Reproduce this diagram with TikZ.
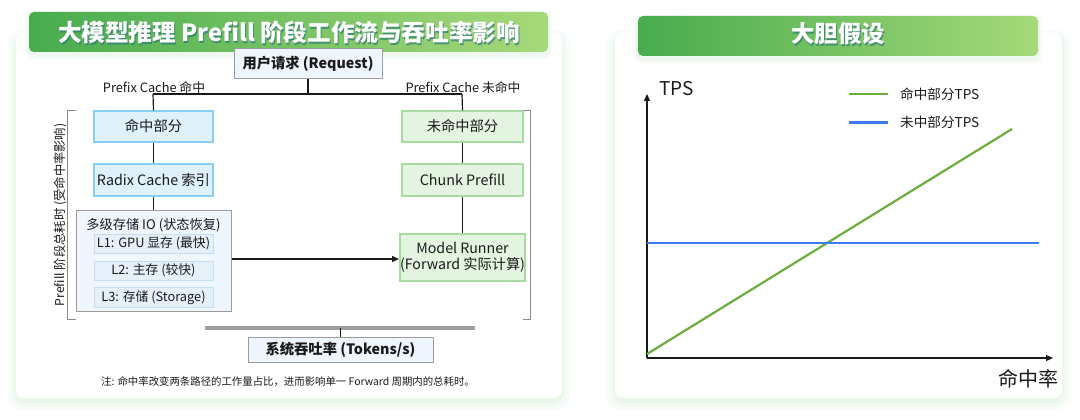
\documentclass[tikz,border=0pt]{standalone}
\usepackage{fontspec}
\setmainfont{Noto Sans CJK SC}
\usetikzlibrary{arrows.meta}
\definecolor{bannerL}{HTML}{48AC4E}
\definecolor{bannerR}{HTML}{A6D979}
\definecolor{titleshadow}{HTML}{2B7A74}
\definecolor{shadowgreen}{HTML}{8FCF8A}
\definecolor{hitfill}{HTML}{DFF1FB}
\definecolor{hitdraw}{HTML}{86D0F2}
\definecolor{missfill}{HTML}{E3F4E1}
\definecolor{missdraw}{HTML}{A6DBA2}
\definecolor{reqfill}{HTML}{EEF5FD}
\definecolor{boxgray}{HTML}{9C9C9C}
\definecolor{contfill}{HTML}{EFF6FD}
\definecolor{lfill}{HTML}{E6F0FA}
\definecolor{ldraw}{HTML}{C4DFF3}
\definecolor{bargray}{HTML}{9E9E9E}
\definecolor{bracketgray}{HTML}{8A8A8A}
\definecolor{linegreen}{HTML}{6AAE3E}
\definecolor{lineblue}{HTML}{3D7BF0}
\definecolor{txt}{HTML}{1A1A1A}
\tikzset{
  card/.style={fill=white, rounded corners=8pt},
  banner/.style={left color=bannerL, right color=bannerR, rounded corners=5pt},
  hitbox/.style={draw=hitdraw, fill=hitfill, line width=1.2pt, minimum width=119pt, inner sep=0pt, font=\fontsize{14.3}{16}\selectfont, text=txt},
  missbox/.style={draw=missdraw, fill=missfill, line width=1.2pt, minimum width=121pt, inner sep=0pt, font=\fontsize{14.3}{16}\selectfont, text=txt},
  lbox/.style={draw=ldraw, fill=lfill, line width=0.8pt, minimum width=119pt, inner sep=0pt, font=\fontsize{12.8}{14}\selectfont, text=txt},
  graybox/.style={draw=boxgray, fill=reqfill, line width=1pt, inner sep=0pt, font=\bfseries\fontsize{14.3}{16}\selectfont, text=txt},
  conn/.style={draw=txt, line width=1.2pt},
  bracket/.style={draw=bracketgray, line width=1pt},
  lbl/.style={font=\fontsize{12.8}{14}\selectfont, text=txt, inner sep=0pt},
}
\begin{document}
\begin{tikzpicture}[x=1pt,y=-1pt]
\useasboundingbox (0,0) rectangle (1080,420);
% card shadows
\foreach \i/\o in {8/0.05,5/0.06,2/0.07}{
  \fill[shadowgreen, opacity=\o, rounded corners=12pt] (16-\i,33-\i+5) rectangle (562+\i,398+\i+4);
  \fill[shadowgreen, opacity=\o, rounded corners=12pt] (615-\i,33-\i+5) rectangle (1062+\i,398+\i+4);
}
\fill[card] (16,33) rectangle (562,398);
\fill[card] (615,33) rectangle (1062,398);
% banners
\foreach \i/\o in {4/0.06,2/0.08}{
  \fill[shadowgreen, opacity=\o, rounded corners=7pt] (29-\i,12-\i+3) rectangle (548+\i,52+\i+3);
  \fill[shadowgreen, opacity=\o, rounded corners=7pt] (638-\i,16-\i+3) rectangle (1038+\i,56+\i+3);
}
\shade[banner] (29,12) rectangle (548,52);
\shade[banner] (638,16) rectangle (1038,56);
\node[text=titleshadow, opacity=0.7, font=\bfseries\fontsize{23.6}{27}\selectfont] at (290,34.5) {大模型推理 Prefill 阶段工作流与吞吐率影响};
\node[text=white, font=\bfseries\fontsize{23.6}{27}\selectfont] (title1) at (289,32.5) {大模型推理 Prefill 阶段工作流与吞吐率影响};
\node[text=titleshadow, opacity=0.7, font=\bfseries\fontsize{23.4}{27}\selectfont] at (839,36) {大胆假设};
\node[text=white, font=\bfseries\fontsize{23.4}{27}\selectfont] (title2) at (838,34) {大胆假设};

% ===== left diagram =====
\node[graybox, minimum width=148pt, minimum height=30pt] (req) at (308,64) {用户请求 (Request)};
\coordinate (split) at (308,94);
\coordinate (hl) at (153,94);
\coordinate (hright) at (462,94);
\node[lbl] (lhit) at (154,87.5) {Prefix Cache 命中};
\node[lbl] (lmiss) at (463,87.5) {Prefix Cache 未命中};

\node[hitbox, minimum height=31pt] (hit) at (153.5,126.5) {命中部分};
\node[hitbox, minimum height=32pt] (radix) at (153.5,180) {Radix Cache 索引};
\node[draw=boxgray, fill=contfill, line width=1pt, minimum width=155pt, minimum height=101pt, inner sep=0pt] (cont) at (153.5,260.5) {};
\node[font=\fontsize{13.2}{15}\selectfont, text=txt, inner sep=0pt] (conttitle) at (153.5,225.5) {多级存储 IO (状态恢复)};
\node[lbox, minimum height=19pt] (l1) at (153.5,243.5) {L1: GPU 显存 (最快)};
\node[lbox, minimum height=19pt] (l2) at (153.5,270.5) {L2: 主存 (较快)};
\node[lbox, minimum height=20pt] (l3) at (153.5,297.5) {L3: 存储 (Storage)};

\node[missbox, minimum height=31pt] (miss) at (462.5,126.5) {未命中部分};
\node[missbox, minimum height=32pt] (chunk) at (462.5,180) {Chunk Prefill};
\node[missbox, line width=2pt, minimum height=47pt, align=center, font=\fontsize{14.2}{16}\selectfont] (runner) at (462.5,257) {Model Runner\\(Forward 实际计算)};

\draw[conn] (req.south) -- (split);
\draw[conn] (hl) -- (hright);
\draw[conn] (hl) -- (hit.north);
\draw[conn] (hright) -- (miss.north);
\draw[conn] (hit) -- (radix);
\draw[conn] (radix) -- (cont.north);
\draw[conn] (miss) -- (chunk);
\draw[conn] (chunk) -- (runner);
\draw[conn, -{Triangle[length=7pt,width=6pt]}] (cont.east |- 0,259) -- (runner.west |- 0,259);

% brackets
\draw[bracket] (76,111) -- (67,111) -- (67,319) -- (76,319);
\draw[bracket] (523,111) -- (530,111) -- (530,319) -- (523,319);
\node[lbl, rotate=90, font=\fontsize{12.3}{14}\selectfont] (blabel) at (60,215) {Prefill 阶段总耗时 (受命中率影响)};

% throughput
\coordinate (barL) at (205,328);
\coordinate (barR) at (475,328);
\draw[draw=bargray, line width=4pt] (barL) -- (barR);
\node[graybox, minimum width=185pt, minimum height=25pt] (tput) at (340.5,349.5) {系统吞吐率 (Tokens/s)};
\draw[draw=txt, line width=1pt] (340.5,328) -- (tput.north);
\node[font=\fontsize{10.4}{12}\selectfont, text=txt, inner sep=0pt] (note) at (288,382) {注: 命中率改变两条路径的工作量占比，进而影响单一 Forward 周期内的总耗时。};

% ===== right chart =====
\coordinate (origin) at (647,358);
\coordinate (ytip) at (647,94);
\coordinate (xtip) at (1053,358);
\draw[line width=1.2pt, txt, -{Triangle[length=7pt,width=6pt]}] (origin) -- (ytip);
\draw[line width=1.2pt, txt, -{Triangle[length=7pt,width=6pt]}] (origin) -- (xtip);
\node[font=\fontsize{19}{22}\selectfont, text=txt, anchor=west, inner sep=0pt] (tps) at (659,89) {TPS};
\node[font=\fontsize{20}{24}\selectfont, text=txt, anchor=east, inner sep=0pt] (xlabel) at (1059,379) {命中率};
\coordinate (g0) at (647,354);
\coordinate (g1) at (1012,129);
\coordinate (b0) at (647,243);
\coordinate (b1) at (1039,243);
\draw[linegreen, line width=2.2pt] (g0) -- (g1);
\draw[lineblue, line width=2.2pt] (b0) -- (b1);
\coordinate (lg0) at (849,94);
\coordinate (lg1) at (888,94);
\coordinate (lb0) at (849,122.5);
\coordinate (lb1) at (888,122.5);
\draw[linegreen, line width=2.2pt] (lg0) -- (lg1);
\draw[lineblue, line width=2.2pt] (lb0) -- (lb1);
\node[font=\fontsize{13.6}{15}\selectfont, text=txt, anchor=west, inner sep=0pt] (leg1) at (900,94) {命中部分TPS};
\node[font=\fontsize{13.6}{15}\selectfont, text=txt, anchor=west, inner sep=0pt] (leg2) at (900,122.5) {未中部分TPS};
\end{tikzpicture}
\end{document}
